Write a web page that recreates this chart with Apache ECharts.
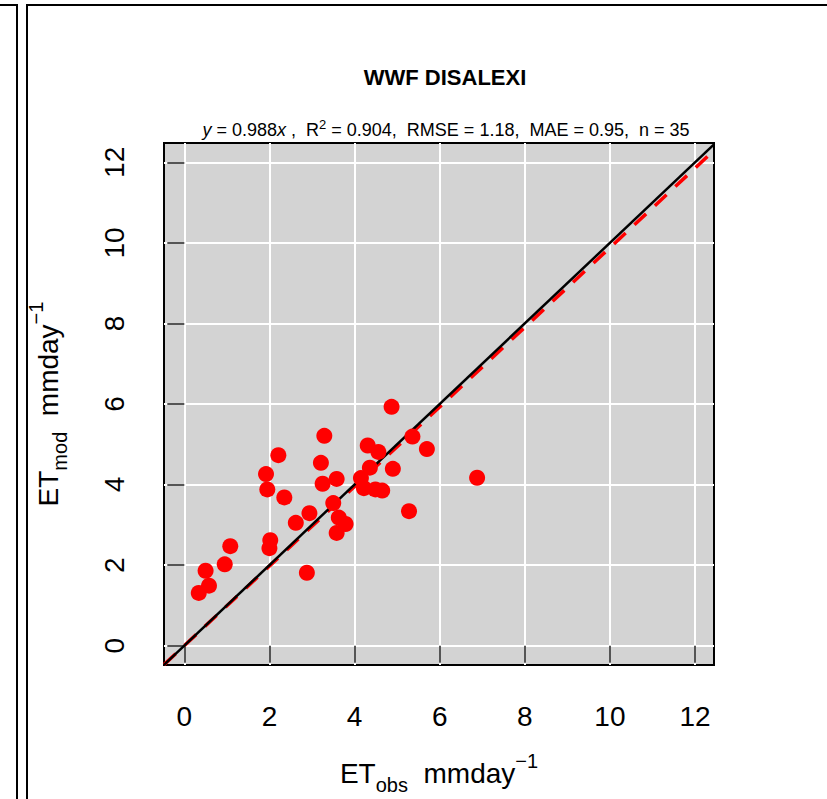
<!DOCTYPE html>
<html>
<head>
<meta charset="utf-8">
<script src="https://cdn.jsdelivr.net/npm/echarts@6/dist/echarts.min.js"></script>
<style>
  html, body { margin: 0; padding: 0; background: #ffffff; }
  #chart { width: 827px; height: 799px; }
</style>
</head>
<body>
<div id="chart"></div>
<script>
// Observed vs modelled evapotranspiration (mm/day), one pair per site-day
const obsET = [3.29, 2.21, 3.21, 1.92, 3.25, 3.58, 1.95, 2.35, 3.50, 2.94,
               2.62, 3.63, 3.79, 3.58, 2.02, 2.00, 1.08, 0.95, 0.50, 0.58,
               0.34, 2.88, 4.87, 4.31, 4.56, 5.36, 5.70, 4.36, 4.90, 4.15,
               4.22, 4.49, 4.65, 5.28, 6.88];
const modET = [5.21, 4.73, 4.54, 4.26, 4.02, 4.14, 3.88, 3.68, 3.54, 3.29,
               3.05, 3.18, 3.02, 2.80, 2.62, 2.42, 2.47, 2.02, 1.86, 1.49,
               1.31, 1.81, 5.93, 4.97, 4.81, 5.19, 4.88, 4.42, 4.39, 4.16,
               3.91, 3.88, 3.85, 3.34, 4.17];

// Regression through the origin and the 1:1 reference
const fitSlope = 0.988;
const oneToOneSlope = 1;

// Axis ranges and tick positions
const xRange = [-0.477, 12.446];
const yRange = [-0.48, 12.48];
const tickValues = [0, 2, 4, 6, 8, 10, 12];

// Text
const titleText = 'WWF DISALEXI';
const statsText = '{i|y} = 0.988{i|x} ,  R{sup|2} = 0.904,  RMSE = 1.18,  MAE = 0.95,  n = 35';
const xTitle = '{a|ET}{sub|obs}{a|  mmday}{sup|\u22121}';
const yTitle = '{a|ET}{sub|mod}{a|  mmday}{sup|\u22121}';

const FONT = '"Liberation Sans", Arial, Helvetica, sans-serif';

const points = obsET.map((x, i) => [x, modET[i]]);
const lineThrough = (slope) => [
  [xRange[0], slope * xRange[0]],
  [xRange[1], slope * xRange[1]]
];

const axisTitleRich = {
  a:   { fontFamily: FONT, fontSize: 28, color: '#000', lineHeight: 44 },
  sub: { fontFamily: FONT, fontSize: 20, color: '#000', lineHeight: 22, verticalAlign: 'bottom' },
  sup: { fontFamily: FONT, fontSize: 20, color: '#000', lineHeight: 22, verticalAlign: 'top' }
};

function valueAxis(range, labelMargin, labelRotate) {
  return {
    type: 'value',
    min: range[0],
    max: range[1],
    axisLine: { show: false },
    axisTick: {
      show: true,
      customValues: tickValues,
      length: 17,
      lineStyle: { color: '#555', width: 2 }
    },
    axisLabel: {
      customValues: tickValues,
      margin: labelMargin,
      rotate: labelRotate,
      fontFamily: FONT,
      fontSize: 28,
      color: '#000'
    },
    splitLine: {
      show: true,
      lineStyle: { color: '#ffffff', width: 2 }
    }
  };
}

const chart = echarts.init(document.getElementById('chart'), null, { renderer: 'svg' });

chart.setOption({
  animation: false,
  backgroundColor: '#ffffff',
  title: [
    {
      text: titleText,
      left: 440,
      top: 61,
      textAlign: 'center',
      textStyle: { fontFamily: FONT, fontSize: 22, fontWeight: 'bold', color: '#000' }
    },
    {
      text: statsText,
      left: 441,
      top: 113,
      textAlign: 'center',
      textStyle: {
        fontFamily: FONT, fontSize: 18, fontWeight: 'normal', color: '#000',
        rich: {
          i:   { fontFamily: FONT, fontSize: 18, fontStyle: 'italic', color: '#000', lineHeight: 24 },
          sup: { fontFamily: FONT, fontSize: 13, color: '#000', lineHeight: 13, verticalAlign: 'top' }
        }
      }
    }
  ],
  grid: {
    left: 164,
    top: 143,
    width: 550,
    height: 522,
    show: true,
    backgroundColor: '#d3d3d3',
    borderColor: '#000',
    borderWidth: 2,
    containLabel: false,
    outerBoundsMode: 'none'
  },
  xAxis: valueAxis(xRange, 37, 0),
  yAxis: valueAxis(yRange, 36, 90),
  series: [
    {
      type: 'line',
      data: lineThrough(fitSlope),
      showSymbol: false,
      clip: true,
      lineStyle: { color: '#ff0000', width: 3.5, type: [16, 12] },
      z: 2
    },
    {
      type: 'line',
      data: lineThrough(oneToOneSlope),
      showSymbol: false,
      clip: true,
      lineStyle: { color: '#000000', width: 2.5 },
      z: 3
    },
    {
      type: 'scatter',
      data: points,
      symbol: 'circle',
      symbolSize: 16,
      itemStyle: { color: '#ff0000', opacity: 1 },
      z: 4
    }
  ],
  graphic: [
    {
      type: 'polyline',
      shape: { points: [[0, 5], [17, 5], [17, 799]] },
      style: { stroke: '#000', lineWidth: 2, fill: null },
      silent: true
    },
    {
      type: 'polyline',
      shape: { points: [[27, 799], [27, 5], [827, 5]] },
      style: { stroke: '#000', lineWidth: 2, fill: null },
      silent: true
    },
    {
      type: 'text',
      x: 439,
      y: 773,
      style: { text: xTitle, rich: axisTitleRich, align: 'center', verticalAlign: 'middle' },
      silent: true
    },
    {
      type: 'text',
      x: 48,
      y: 404,
      rotation: Math.PI / 2,
      style: { text: yTitle, rich: axisTitleRich, align: 'center', verticalAlign: 'middle' },
      silent: true
    }
  ]
});
</script>
</body>
</html>
